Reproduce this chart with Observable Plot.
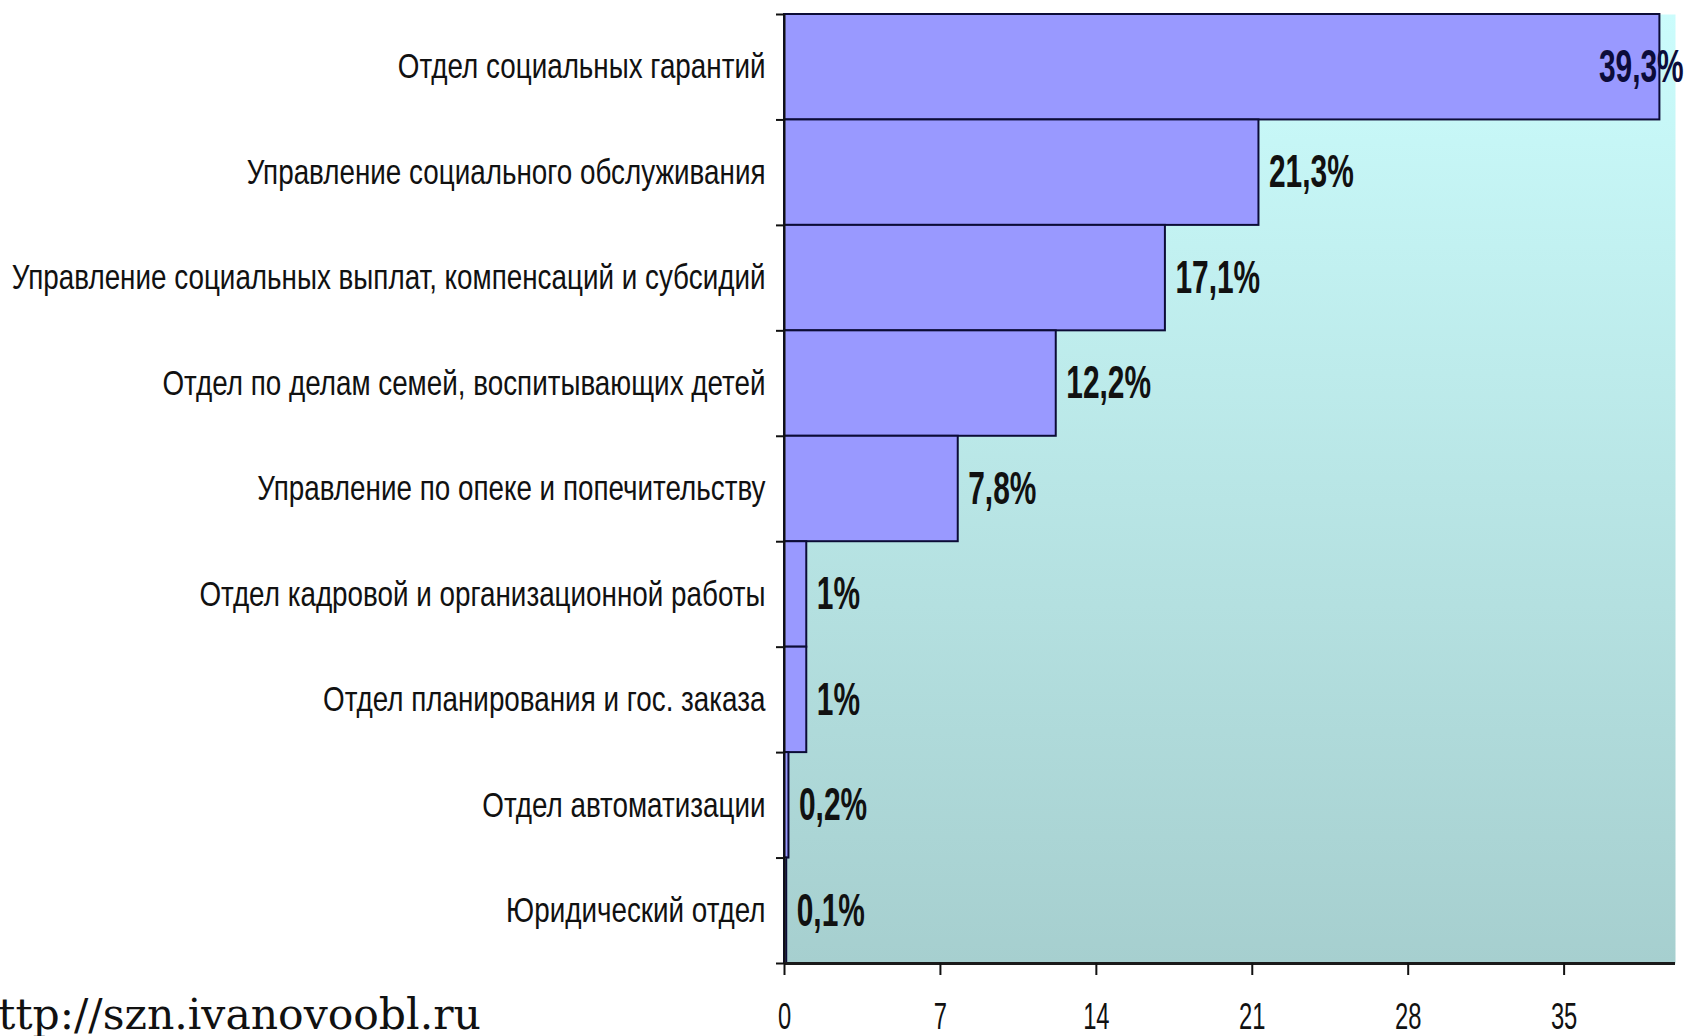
<!DOCTYPE html>
<html>
<head>
<meta charset="utf-8">
<script src="https://cdn.jsdelivr.net/npm/d3@7"></script>
<script src="https://cdn.jsdelivr.net/npm/@observablehq/plot@0.6"></script>
<style>
  html, body { margin: 0; padding: 0; background: #ffffff; }
  #wrap { position: relative; width: 1684px; height: 1036px; overflow: hidden; background: #ffffff; }
  #caption {
    position: absolute; left: -29px; top: 993px;
    font-family: "DejaVu Serif", serif; font-size: 42.5px; line-height: 44px;
    color: #111; white-space: nowrap;
  }
</style>
</head>
<body>
<div id="wrap">
  <div id="chart"></div>
  <div id="caption">http://szn.ivanovoobl.ru</div>
</div>
<script>
const categories = [
  "Отдел социальных гарантий",
  "Управление социального обслуживания",
  "Управление социальных выплат, компенсаций и субсидий",
  "Отдел по делам семей, воспитывающих детей",
  "Управление по опеке и попечительству",
  "Отдел кадровой и организационной работы",
  "Отдел планирования и гос. заказа",
  "Отдел автоматизации",
  "Юридический отдел"
];
const values = [39.3, 21.3, 17.1, 12.2, 7.8, 1, 1, 0.2, 0.1];
const valueLabels = ["39,3%", "21,3%", "17,1%", "12,2%", "7,8%", "1%", "1%", "0,2%", "0,1%"];
const xTicks = [0, 7, 14, 21, 28, 35];

const rows = categories.map((name, i) => ({name, i, value: values[i], label: valueLabels[i]}));
const bandEdges = d3.range(0, categories.length + 1);
const bandCenters = d3.range(0, categories.length).map(i => i + 0.5);

const font = "'Liberation Sans', Arial, sans-serif";

const defs = () => {
  const g = d3.create("svg:g");
  const grad = g.append("defs").append("linearGradient")
    .attr("id", "bg").attr("x1", 0).attr("y1", 0).attr("x2", 0).attr("y2", 1);
  grad.append("stop").attr("offset", "0%").attr("stop-color", "#cbfcfc");
  grad.append("stop").attr("offset", "100%").attr("stop-color", "#a6cfcf");
  return g.node();
};

const chart = Plot.plot({
  width: 1684,
  height: 1036,
  marginLeft: 784,
  marginRight: 9,
  marginTop: 14,
  marginBottom: 73,
  style: {fontFamily: font, background: "transparent", overflow: "visible"},
  x: {domain: [0, 40], ticks: xTicks},
  y: {domain: [0, categories.length], reverse: true},
  marks: [
    defs,
    Plot.frame({fill: "url(#bg)", stroke: null}),
    Plot.rectX(rows, {x1: 0, x2: "value", y1: "i", y2: d => d.i + 1,
      fill: "#9999ff", stroke: "#0c0c36", strokeWidth: 2}),
    Plot.ruleX([0], {stroke: "#111", strokeWidth: 2}),
    Plot.ruleY([categories.length], {stroke: "#1a1a1a", strokeWidth: 3}),
    Plot.axisY(bandEdges, {tickSize: 8, tickFormat: () => "", stroke: "#111", strokeWidth: 2, label: null}),
    Plot.axisY(bandCenters, {tickSize: 0, tickPadding: 19, fontSize: 35, fill: "#111",
      tickFormat: d => categories[Math.floor(d)], label: null}),
    Plot.axisX(xTicks, {tickSize: 12, tickPadding: 28, fontSize: 36, fill: "#111", stroke: "#111", strokeWidth: 2, label: null}),
    Plot.text(rows.filter(d => d.value < 35), {x: "value", y: d => d.i + 0.5, text: "label",
      textAnchor: "start", dx: 10, fontSize: 46, fontWeight: "bold", fill: "#111"}),
    Plot.text(rows.filter(d => d.value >= 35), {x: "value", y: d => d.i + 0.5, text: "label",
      textAnchor: "start", dx: -61, fontSize: 46, fontWeight: "bold", fill: "#0c0c3a"})
  ]
});
document.getElementById("chart").appendChild(chart);

// condense the lettering horizontally (narrow face in the original), scaling about each text's anchor
function squeeze(nodes, k) {
  nodes.forEach(t => {
    const tr = t.getAttribute("transform") || "";
    t.setAttribute("transform", `${tr} scale(${k},1)`);
  });
}
const allTexts = Array.from(chart.querySelectorAll("text"));
const yLabels = Array.from(chart.querySelectorAll('g[aria-label="y-axis tick label"] text'));
const xLabels = Array.from(chart.querySelectorAll('g[aria-label="x-axis tick label"] text'));
const valueTexts = allTexts.filter(t => valueLabels.includes(t.textContent) && !yLabels.includes(t) && !xLabels.includes(t));
squeeze(yLabels, 0.795);
squeeze(xLabels, 0.66);
squeeze(valueTexts, 0.65);
</script>
</body>
</html>
